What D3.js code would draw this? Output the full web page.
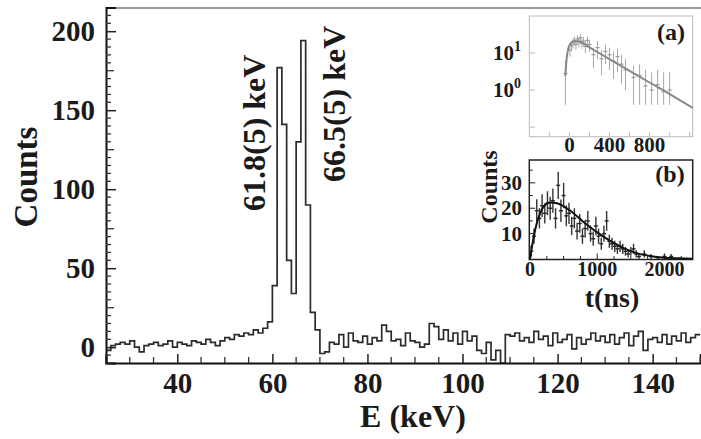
<!DOCTYPE html>
<html><head><meta charset="utf-8">
<script src="https://cdn.jsdelivr.net/npm/d3@7"></script>
<style>
body{margin:0;background:#fff}
svg{display:block}
text{font-family:"Liberation Serif","Times New Roman",serif;font-weight:bold;fill:#1a1a1a}
</style>
</head><body>
<svg id="c" width="701" height="439"></svg>
<script>
// ---------- main spectrum data (1 keV bins starting at 25 keV) ----------
const binStartE = 25;
const binWidthE = 1;
const spectrumCounts = [
  -2, 1, 2, 3, 2, 4, 0, -3, 1, 2,
  3, 1, 2, 4, 0, 3, 2, 1, 4, 3,
  2, 5, 3, 1, 4, 6, 5, 8, 7, 9,
  8, 11, 9, 12, 16,
  39, 177, 141, 55, 34, 130, 194, 90, 22, 11,
  -4, -3, 3, 2, 8, 0, 9, 4, 3, 7,
  2, 6, 4, 14, 10, 4, 5, 1, 9, 4,
  3, 0, 2, 15, 13, 5, 11, 4, 9, 2,
  10, 4, 7, -2, -4, 3, -8, -2, -10, 8,
  7, 9, 4, 6, 3, 10, 5, 7, 1, 9,
  3, 5, 8, -1, 6, 2, 5, 9, 4, 7,
  3, 8, 2, 6, 9, 1, 7, 10, -2, 5,
  6, 3, 8, 2, 7, 4, 9, 3, 6, 8
];
const xTickValues = [40, 60, 80, 100, 120, 140];
const yTickValues = [0, 50, 100, 150, 200];
const peakLabelTexts = ["61.8(5) keV", "66.5(5) keV"];
const peakLabelE = [56.1, 73.0];
const peakLabelCounts = [135.7, 154];

// ---------- inset (a): log scale ----------
const aT  = [-40, 5, 20, 35, 50, 65, 80, 95, 110, 125, 140, 160, 180, 200, 240, 280, 320, 360, 400, 440, 480, 520, 560, 640, 700, 760, 820, 880, 940, 1000];
const aV  = [2.8, 12, 16, 19, 22, 17, 24, 20, 26, 18, 21, 15, 22, 17, 9, 14, 7, 11, 9, 6, 8, 5, 3.5, 2.2, 2.5, 1.3, 1.0, 1.4, 0.9, 1.0];
const aLo = [0.4, 8, 11, 13, 16, 12, 18, 14, 19, 13, 15, 10, 16, 11, 4, 7, 2.5, 5, 3.5, 2, 3, 1.5, 1, 0.4, 0.4, 0.4, 0.4, 0.4, 0.4, 0.4];
const aHi = [6.5, 16, 21, 25, 28, 22, 30, 26, 33, 24, 27, 21, 28, 23, 14, 21, 12, 17, 14, 11, 13, 9, 7, 4.5, 5, 3.5, 3, 3.5, 3, 3];
const aFitT = [-40, -30, -20, -10, 0, 20, 50, 100, 200, 400, 600, 800, 1000, 1230];
const aFitV = [2.4, 6, 10, 13.5, 16, 19, 21, 20.5, 14.2, 6.8, 3.3, 1.6, 0.78, 0.33];
const aYTicks = [1, 10];
const aYTickLabels = ["10", "10"];
const aYTickExp = ["0", "1"];
const aXTicks = [0, 400, 800];

// ---------- inset (b): linear ----------
const bT   = [20, 60, 100, 140, 180, 220, 260, 300, 340, 380, 420, 460, 500, 540, 580, 620, 660, 700, 740, 780, 820, 860, 900, 940, 980, 1020, 1060, 1100, 1140, 1180, 1220, 1260, 1300, 1340, 1380, 1420, 1460, 1500, 1540, 1580, 1620, 1700, 1800, 1900, 2000, 2100];
const bV   = [3, 9, 19, 16, 21, 18, 22, 20, 23, 16, 29, 19, 25, 17, 18, 13, 16, 11, 14, 9, 12, 15, 10, 8, 13, 9, 6, 10, 15, 7, 6, 5, 4, 5, 4, 3, 2, 3, 4, 2, 1, 2, 1, 0.5, 1, 1];
const bErr = [2, 3, 4.5, 4, 4.5, 4, 4.7, 4.5, 4.8, 4, 5.4, 4.4, 5, 4.1, 4.2, 3.6, 4, 3.3, 3.7, 3, 3.5, 3.9, 3.2, 2.8, 3.6, 3, 2.4, 3.2, 3.9, 2.6, 2.4, 2.2, 2, 2.2, 2, 1.7, 1.4, 1.7, 2, 1.4, 1, 1.4, 1, 0.7, 1, 1];
const bFitT = [0, 50, 100, 150, 200, 300, 400, 600, 800, 1000, 1200, 1400, 1600, 1800, 2000, 2200, 2420];
const bFitV = [0, 8, 14, 18, 20.5, 22.3, 22, 19, 14.5, 10.5, 7, 4.2, 2.2, 1.1, 0.5, 0.25, 0.1];
const bYTicks = [10, 20, 30];
const bXTicks = [0, 1000, 2000];

// ================= drawing =================
const svg = d3.select("#c");

const x = d3.scaleLinear().domain([25, 150]).range([106, 700.2]);
const y = d3.scaleLinear().domain([-10, 215]).range([363, 7.5]);

svg.append("line").attr("x1", 106).attr("x2", 701).attr("y1", 8).attr("y2", 8)
  .attr("stroke", "#9a9a9a").attr("stroke-width", 2);

const pts = spectrumCounts.map((v, i) => [binStartE + i * binWidthE, v]);
pts.push([binStartE + spectrumCounts.length * binWidthE, spectrumCounts[spectrumCounts.length - 1]]);
svg.append("path")
  .attr("d", d3.line().x(d => x(d[0])).y(d => y(d[1])).curve(d3.curveStepAfter)(pts))
  .attr("fill", "none").attr("stroke", "#2b2b2b").attr("stroke-width", 1.7);

const xAxis = d3.axisBottom(x).tickValues(xTickValues).tickSize(-9).tickFormat(d3.format("d")).tickPadding(9);
const gx = svg.append("g").attr("transform", "translate(0,363)").call(xAxis);
gx.select(".domain").attr("stroke", "#111").attr("stroke-width", 2);
gx.selectAll(".tick line").attr("stroke", "#222").attr("stroke-width", 1.5);
gx.selectAll("text").attr("font-size", 29).attr("fill", "#1a1a1a").attr("font-family", "Liberation Serif").attr("font-weight", "bold");
const xMinor = d3.range(25, 150.01, 5).filter(v => !xTickValues.includes(v));
svg.append("g").selectAll("line").data(xMinor).join("line")
  .attr("x1", d => x(d)).attr("x2", d => x(d)).attr("y1", 363).attr("y2", 357)
  .attr("stroke", "#333").attr("stroke-width", 1.3);

const yAxis = d3.axisLeft(y).tickValues(yTickValues).tickSize(-10).tickPadding(11).tickFormat(d3.format("d"));
const gy = svg.append("g").attr("transform", "translate(106,0)").call(yAxis);
gy.select(".domain").attr("stroke", "#111").attr("stroke-width", 2);
gy.selectAll(".tick line").attr("stroke", "#222").attr("stroke-width", 1.5);
gy.selectAll("text").attr("font-size", 29).attr("fill", "#1a1a1a").attr("font-family", "Liberation Serif").attr("font-weight", "bold");
const yMinor = d3.range(-10, 215, 5).filter(v => !yTickValues.includes(v));
svg.append("g").selectAll("line").data(yMinor).join("line")
  .attr("x1", 106).attr("x2", d => 106 + (d % 25 === 0 ? 8 : 5)).attr("y1", d => y(d)).attr("y2", d => y(d))
  .attr("stroke", "#333").attr("stroke-width", 1.3);

svg.append("text").attr("x", 413).attr("y", 427).attr("text-anchor", "middle").attr("font-size", 32).text("E (keV)");
svg.append("text").attr("transform", "translate(37,177) rotate(-90)").attr("text-anchor", "middle").attr("font-size", 33).text("Counts");

peakLabelTexts.forEach((t, i) => {
  svg.append("text")
    .attr("transform", `translate(${x(peakLabelE[i])},${y(peakLabelCounts[i])}) rotate(-90)`)
    .attr("text-anchor", "middle").attr("dominant-baseline", "central")
    .attr("font-size", 32).text(t);
});

// ---------- inset (a) ----------
const ax = d3.scaleLinear().domain([-400, 1230]).range([529.3, 692.7]);
const ay = d3.scaleLog().domain([0.055, 100]).range([136.7, 16]);
const ga = svg.append("g");
ga.append("rect").attr("x", 529.3).attr("y", 16).attr("width", 163.4).attr("height", 120.7)
  .attr("fill", "#fff").attr("stroke", "#bbb").attr("stroke-width", 1);
[0.1, 1, 10].forEach(v => {
  ga.append("line").attr("x1", 529.3).attr("x2", 535).attr("y1", ay(v)).attr("y2", ay(v)).attr("stroke", "#bbb");
});
[-200, 0, 200, 400, 600, 800, 1000, 1200].forEach(v => {
  ga.append("line").attr("x1", ax(v)).attr("x2", ax(v)).attr("y1", 136.7).attr("y2", 132).attr("stroke", "#bbb");
});
ga.selectAll(".ea").data(aT).join("line")
  .attr("x1", d => ax(d)).attr("x2", d => ax(d))
  .attr("y1", (d, i) => ay(aLo[i])).attr("y2", (d, i) => ay(aHi[i]))
  .attr("stroke", "#a8a8a8").attr("stroke-width", 1);
ga.selectAll(".pa").data(aT).join("line")
  .attr("x1", d => ax(d) - 2).attr("x2", d => ax(d) + 2)
  .attr("y1", (d, i) => ay(aV[i])).attr("y2", (d, i) => ay(aV[i]))
  .attr("stroke", "#999").attr("stroke-width", 1.2);
ga.append("path")
  .attr("d", d3.line().x((d, i) => ax(aFitT[i])).y((d, i) => ay(aFitV[i])).curve(d3.curveMonotoneX)(aFitT))
  .attr("fill", "none").attr("stroke", "#888").attr("stroke-width", 2);
aYTicks.forEach((v, i) => {
  const t = ga.append("text").attr("x", 521).attr("y", ay(v) + 7).attr("text-anchor", "end").attr("font-size", 21);
  t.append("tspan").text(aYTickLabels[i]);
  t.append("tspan").attr("dy", -9).attr("font-size", 14).text(aYTickExp[i]);
});
aXTicks.forEach(v => {
  ga.append("text").attr("x", ax(v)).attr("y", 152).attr("text-anchor", "middle").attr("font-size", 21).text(v);
});
ga.append("text").attr("x", 671).attr("y", 40).attr("text-anchor", "middle").attr("font-size", 24).text("(a)");

// ---------- inset (b) ----------
const bx = d3.scaleLinear().domain([0, 2420]).range([530, 692.7]);
const by = d3.scaleLinear().domain([0, 39]).range([259, 160]);
const gb = svg.append("g");
gb.append("rect").attr("x", 529.3).attr("y", 160).attr("width", 163.4).attr("height", 99.5)
  .attr("fill", "#fff").attr("stroke", "#222").attr("stroke-width", 1.5);
d3.range(5, 39, 5).forEach(v => {
  gb.append("line").attr("x1", 529.3).attr("x2", 529.3 + (v % 10 === 0 ? 6 : 3.5)).attr("y1", by(v)).attr("y2", by(v)).attr("stroke", "#222");
});
d3.range(250, 2420, 250).forEach(v => {
  gb.append("line").attr("x1", bx(v)).attr("x2", bx(v)).attr("y1", 259.5).attr("y2", 259.5 - (v % 1000 === 0 ? 6 : 3.5)).attr("stroke", "#222");
});
gb.selectAll(".eb").data(bT).join("line")
  .attr("x1", d => bx(d)).attr("x2", d => bx(d))
  .attr("y1", (d, i) => by(Math.max(0, bV[i] - bErr[i]))).attr("y2", (d, i) => by(bV[i] + bErr[i]))
  .attr("stroke", "#333").attr("stroke-width", 1.4);
gb.selectAll(".pb").data(bT).join("line")
  .attr("x1", d => bx(d) - 2).attr("x2", d => bx(d) + 2)
  .attr("y1", (d, i) => by(bV[i])).attr("y2", (d, i) => by(bV[i]))
  .attr("stroke", "#222").attr("stroke-width", 1.4);
gb.append("path")
  .attr("d", d3.line().x((d, i) => bx(bFitT[i])).y((d, i) => by(bFitV[i])).curve(d3.curveMonotoneX)(bFitT))
  .attr("fill", "none").attr("stroke", "#111").attr("stroke-width", 2);
bYTicks.forEach(v => {
  gb.append("text").attr("x", 522).attr("y", by(v) + 7).attr("text-anchor", "end").attr("font-size", 21).text(v);
});
bXTicks.forEach(v => {
  gb.append("text").attr("x", bx(v)).attr("y", 276).attr("text-anchor", "middle").attr("font-size", 20).text(v);
});
gb.append("text").attr("x", 612).attr("y", 307).attr("text-anchor", "middle").attr("font-size", 28).text("t(ns)");
gb.append("text").attr("x", 670).attr("y", 182).attr("text-anchor", "middle").attr("font-size", 24).text("(b)");
gb.append("text").attr("transform", "translate(497,187) rotate(-90)").attr("text-anchor", "middle").attr("font-size", 24).text("Counts");
</script>
</body></html>
